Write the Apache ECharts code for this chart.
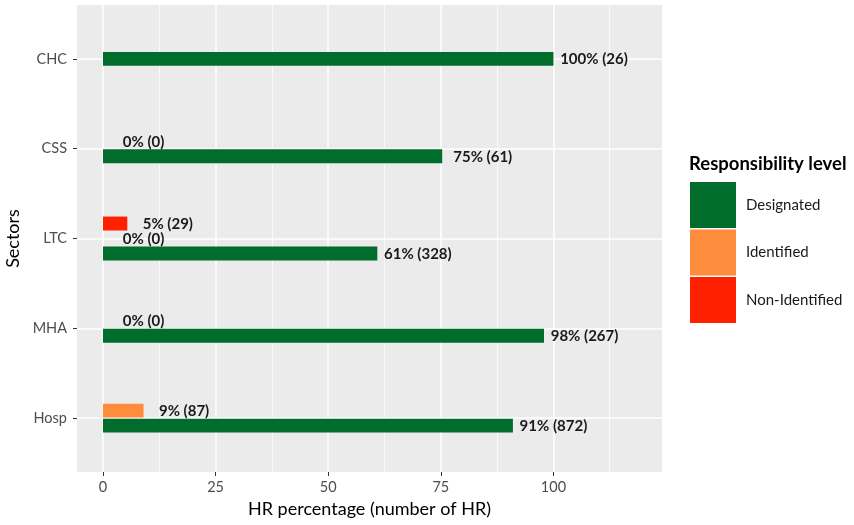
<!DOCTYPE html>
<html>
<head>
<meta charset="utf-8">
<script src="https://cdn.jsdelivr.net/npm/echarts@6/dist/echarts.min.js"></script>
<style>
html,body{margin:0;padding:0;background:#fff;}
#chart{width:854px;height:525px;}
</style>
</head>
<body>
<div id="chart"></div>
<script>
// ---- data ----
const categories = ['CHC', 'CSS', 'LTC', 'MHA', 'Hosp'];
const levels = ['Designated', 'Identified', 'Non-Identified'];
const designatedPct = [100, 75.3, 60.9, 97.9, 91.0];
const designatedN = [26, 61, 328, 267, 872];
const identifiedPct = [null, 0, 0, 0, 9.0];
const identifiedN = [null, 0, 0, 0, 87];
const nonIdentifiedPct = [null, null, 5.4, null, null];
const nonIdentifiedN = [null, null, 29, null, null];
const xTicks = [0, 25, 50, 75, 100];
const xMinorTicks = [12.5, 37.5, 62.5, 87.5, 112.5];

// ---- styling ----
const colors = { 'Designated': '#006D2C', 'Identified': '#FD8D3C', 'Non-Identified': '#FF2000' };
const FONT = 'Lato';
const DODGE_SLOT = 1 / 6;    // category units per dodged bar
const BAR_H = 0.155;         // bar thickness in category units
const LABEL_NUDGE = 9;       // label centre offset in x units

const pctByLevel = { 'Designated': designatedPct, 'Identified': identifiedPct, 'Non-Identified': nonIdentifiedPct };
const nByLevel = { 'Designated': designatedN, 'Identified': identifiedN, 'Non-Identified': nonIdentifiedN };
// top-to-bottom order within a category
const stackOrder = ['Non-Identified', 'Identified', 'Designated'];

function buildData(level) {
  const out = [];
  categories.forEach((c, ci) => {
    const present = stackOrder.filter(l => pctByLevel[l][ci] !== null);
    const idx = present.indexOf(level);
    if (idx < 0) return;
    const off = (idx - (present.length - 1) / 2) * DODGE_SLOT;
    const pct = pctByLevel[level][ci];
    out.push([pct, ci + off, Math.round(pct) + '% (' + nByLevel[level][ci] + ')']);
  });
  return out;
}

function renderItem(params, api) {
  const x = api.value(0), y = api.value(1);
  const p0 = api.coord([0, y]);
  const p1 = api.coord([x, y]);
  const h = Math.abs(api.size([0, BAR_H])[1]);
  const lp = api.coord([x + LABEL_NUDGE, y]);
  return {
    type: 'group',
    children: [
      { type: 'rect', shape: { x: p0[0], y: p0[1] - h / 2, width: p1[0] - p0[0], height: h },
        style: { fill: api.visual('color'), stroke: null, lineWidth: 0 } },
      { type: 'text', x: lp[0], y: lp[1] + 0.5,
        style: { text: api.value(2), fill: '#1a1a1a', font: 'bold 15px ' + FONT, align: 'center', verticalAlign: 'middle' } }
    ]
  };
}

const series = levels.map(l => ({
  name: l,
  type: 'custom',
  renderItem: renderItem,
  itemStyle: { color: colors[l] },
  encode: { x: 0, y: 1 },
  dimensions: ['pct', 'pos', { name: 'label', type: 'ordinal' }],
  data: buildData(l),
  clip: false
}));

const chart = echarts.init(document.getElementById('chart'), null, { renderer: 'canvas' });
chart.setOption({
  animation: false,
  backgroundColor: '#ffffff',
  textStyle: { fontFamily: FONT },
  grid: { left: 77, top: 5, right: 192, bottom: 53, show: true, backgroundColor: '#EBEBEB', borderWidth: 0, containLabel: false, outerBoundsMode: 'none' },
  title: {
    text: 'Responsibility level', left: 689, top: 155, padding: 0,
    textStyle: { fontFamily: FONT, fontWeight: 'bold', fontSize: 18.5, color: '#000' }
  },
  legend: {
    orient: 'vertical', left: 690, top: 182, itemWidth: 46, itemHeight: 46, itemGap: 1.5, padding: 0,
    icon: 'rect', data: levels,
    textStyle: { fontFamily: FONT, fontSize: 15, color: '#1a1a1a', padding: [0, 0, 0, 5] },
    selectedMode: false
  },
  xAxis: [{
    type: 'value', min: -5.77, max: 124.1, position: 'bottom',
    name: 'HR percentage (number of HR)', nameLocation: 'middle', nameGap: 27,
    nameTextStyle: { fontFamily: FONT, fontSize: 18, color: '#000' },
    axisLine: { show: false, onZero: false },
    axisTick: { show: true, length: 4, lineStyle: { color: '#333', width: 1 }, customValues: xTicks },
    axisLabel: { customValues: xTicks, color: '#4D4D4D', fontSize: 14.5, fontFamily: FONT, margin: 8 },
    splitLine: { show: true, lineStyle: { color: '#ffffff', width: 1.5 } }
  }, {
    type: 'value', min: -5.77, max: 124.1, position: 'bottom',
    axisLine: { show: false, onZero: false },
    axisTick: { show: false, customValues: xMinorTicks },
    axisLabel: { show: false, customValues: xMinorTicks },
    splitLine: { show: true, lineStyle: { color: '#ffffff', width: 0.75 } }
  }],
  yAxis: {
    type: 'value', min: -0.6, max: 4.6, inverse: true, position: 'left',
    name: 'Sectors', nameLocation: 'middle', nameGap: 55, nameRotate: 90,
    nameTextStyle: { fontFamily: FONT, fontSize: 18, color: '#000' },
    axisLine: { show: false, onZero: false },
    axisTick: { show: true, length: 4, lineStyle: { color: '#333', width: 1 }, customValues: [0, 1, 2, 3, 4] },
    axisLabel: { customValues: [0, 1, 2, 3, 4], formatter: v => categories[Math.round(v)], color: '#4D4D4D', fontSize: 14.5, fontFamily: FONT, margin: 10 },
    splitLine: { show: true, lineStyle: { color: '#ffffff', width: 1.5 } }
  },
  series: series
});
</script>
</body>
</html>
